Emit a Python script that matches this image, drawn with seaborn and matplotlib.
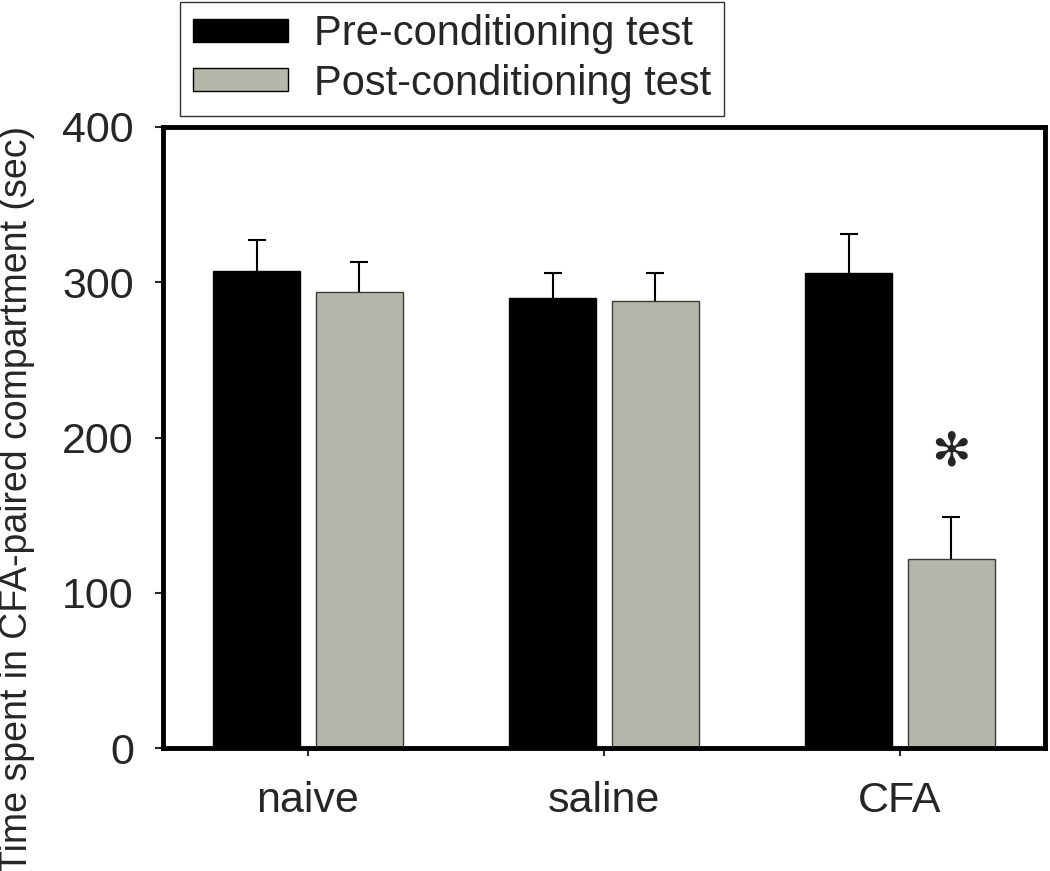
import numpy as np
import pandas as pd
import seaborn as sns
import matplotlib.pyplot as plt

groups = ["naive", "saline", "CFA"]
tests = ["Pre-conditioning test", "Post-conditioning test"]
pre_mean = [307, 290, 306]
pre_sem = [20, 16, 25]
post_mean = [294, 288, 122]
post_sem = [19, 18, 27]
y_ticks = [0, 100, 200, 300, 400]
star_group = "CFA"
star_y = 190

df = pd.DataFrame({
    "group": groups * 2,
    "test": [tests[0]] * 3 + [tests[1]] * 3,
    "time": pre_mean + post_mean,
    "sem": pre_sem + post_sem,
})

sns.set_style("ticks")
plt.rcParams["font.family"] = ["Liberation Sans", "DejaVu Sans"]

fig = plt.figure(figsize=(10.5, 8.71), dpi=100)
ax = fig.add_axes([0.1552, 0.1412, 0.84, 0.713])

sns.barplot(data=df, x="group", y="time", hue="test", order=groups,
            hue_order=tests, palette=["black", "#b6b6aa"], width=0.694,
            gap=0.15, errorbar=None, linewidth=1, edgecolor="black",
            saturation=1, ax=ax)

# error bars, upper half only
for cont, test in zip(ax.containers, tests):
    sub = df[df["test"] == test].set_index("group").loc[groups]
    xs = [b.get_x() + b.get_width() / 2 for b in cont]
    eb = ax.errorbar(xs, sub["time"], yerr=[np.zeros(len(xs)), sub["sem"]],
                     fmt="none", ecolor="black", elinewidth=1.5, capsize=6.5,
                     capthick=1.5, zorder=1)
    eb[1][0].remove()  # drop the cap sitting on the bar top
for b in ax.containers[1]:
    b.set_edgecolor("#3a3a3a")

# significance mark
star_bar = ax.containers[1][groups.index(star_group)]
ax.text(star_bar.get_x() + star_bar.get_width() / 2, star_y, "\u273b",
        ha="center", va="center", fontsize=34, family="DejaVu Sans")

ax.set_ylim(0, 400)
ax.set_xlim(-0.49, 2.49)
ax.set_yticks(y_ticks)
ax.set_xlabel("")
ax.set_ylabel("Time spent in CFA-paired compartment (sec)", fontsize=27)
ax.yaxis.set_label_coords(-0.145, 0.401)
ax.tick_params(axis="y", labelsize=31, length=6, width=1.5, pad=15)
ax.tick_params(axis="x", labelsize=31, length=6, width=1.5, pad=18)
for s in ax.spines.values():
    s.set_visible(True)
    s.set_linewidth(3.5)
    s.set_color("black")

handles, labels = ax.get_legend_handles_labels()
ax.get_legend().remove()
fig.legend(handles, labels, loc="upper left",
           bbox_to_anchor=(180 / 1050, 1 - 2 / 871), borderaxespad=0,
           fontsize=30, frameon=True, fancybox=False, edgecolor="#333333",
           framealpha=1, handlelength=2.3, handleheight=0.46,
           handletextpad=0.62, labelspacing=0.22, borderpad=0.3)

plt.savefig("out.png", dpi=100)
